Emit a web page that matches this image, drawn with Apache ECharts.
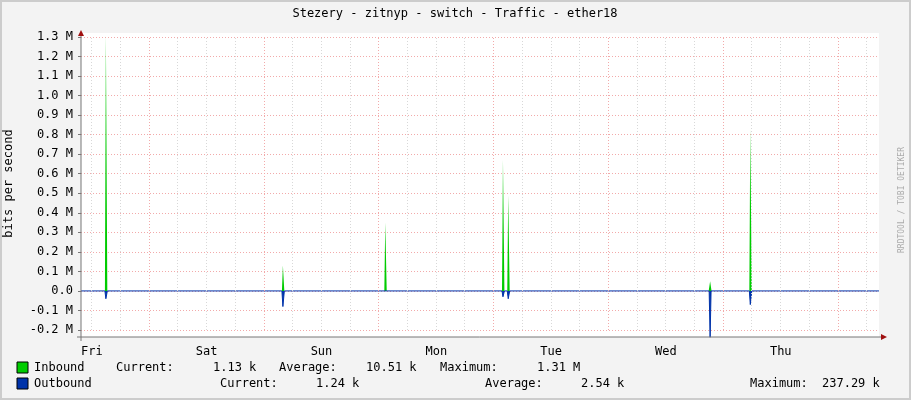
<!DOCTYPE html>
<html>
<head>
<meta charset="utf-8">
<script src="https://cdn.jsdelivr.net/npm/echarts@6/dist/echarts.min.js"></script>
<style>html,body{margin:0;padding:0;background:#f3f3f3}#main{width:911px;height:400px}</style>
</head>
<body>
<div id="main"></div>
<script>
// hours since start of Fri, values in Mbit/s
var dayLabels = ['Fri', 'Sat', 'Sun', 'Mon', 'Tue', 'Wed', 'Thu'];
var inbound = [
  [0, 0], [5.0, 0], [5.2, 1.31], [5.5, 0],
  [42.0, 0], [42.2, 0.13], [42.5, 0],
  [63.4, 0], [63.6, 0.35], [63.9, 0],
  [88.0, 0], [88.2, 0.67], [88.5, 0],
  [89.1, 0], [89.3, 0.49], [89.6, 0],
  [131.2, 0], [131.5, 0.05], [131.8, 0],
  [139.7, 0], [139.9, 0.83], [140.2, 0],
  [166.8, 0]
];
var outbound = [
  [0, 0], [5.0, 0], [5.2, -0.04], [5.5, 0],
  [42.0, 0], [42.2, -0.08], [42.5, 0],
  [88.0, 0], [88.2, -0.03], [88.5, 0],
  [89.1, 0], [89.3, -0.04], [89.6, 0],
  [131.3, 0], [131.5, -0.237], [131.7, 0],
  [139.7, 0], [139.9, -0.07], [140.2, 0],
  [166.8, 0]
];
var minorLines = [2.2, 8.2, 20.2, 26.2, 32.2, 44.2, 50.2, 56.2, 68.2, 74.2, 80.2, 92.2, 98.2, 104.2, 116.2, 122.2, 128.2, 140.2, 146.2, 152.2, 164.2];
var majorLines = [14.2, 38.2, 62.2, 86.2, 110.2, 134.2, 158.2];
var legendRows = [
  {y: 368, items: [[34, 'Inbound'], [116, 'Current:'], [213, '1.13 k'], [279, 'Average:'], [366, '10.51 k'], [440, 'Maximum:'], [537, '1.31 M']]},
  {y: 384, items: [[34, 'Outbound'], [220, 'Current:'], [316, '1.24 k'], [485, 'Average:'], [581, '2.54 k'], [750, 'Maximum:'], [822, '237.29 k']]}
];

var mono = 'DejaVu Sans Mono';
var chart = echarts.init(document.getElementById('main'));
var graphics = [
  {type: 'rect', z: -10, shape: {x: 1, y: 1, width: 909, height: 398}, style: {fill: '#f3f3f3', stroke: '#cccccc', lineWidth: 2}},
  {type: 'rect', z: -5, shape: {x: 81, y: 33, width: 798, height: 304}, style: {fill: '#ffffff'}},
  {type: 'line', z: 50, shape: {x1: 81, y1: 33, x2: 81, y2: 341}, style: {stroke: '#777', lineWidth: 1}},
  {type: 'line', z: 50, shape: {x1: 77, y1: 337, x2: 882, y2: 337}, style: {stroke: '#777', lineWidth: 1}},
  {type: 'polygon', z: 51, shape: {points: [[78, 36], [84, 36], [81, 30]]}, style: {fill: '#a01010'}},
  {type: 'polygon', z: 51, shape: {points: [[881, 334], [881, 340], [887, 337]]}, style: {fill: '#a01010'}},
  {type: 'text', style: {text: 'Stezery - zitnyp - switch - Traffic - ether18', x: 455, y: 14, align: 'center', verticalAlign: 'middle', font: '12px ' + mono, fill: '#000'}},
  {type: 'text', rotation: Math.PI / 2, x: 902, y: 200, style: {text: 'RRDTOOL / TOBI OETIKER', align: 'center', verticalAlign: 'middle', font: '8px ' + mono, fill: '#aaa'}},
  {type: 'rect', shape: {x: 17, y: 362, width: 11, height: 11}, style: {fill: '#00cc00', stroke: '#000'}},
  {type: 'rect', shape: {x: 17, y: 378, width: 11, height: 11}, style: {fill: '#0033aa', stroke: '#000'}}
];
legendRows.forEach(function (r) {
  r.items.forEach(function (it) {
    graphics.push({type: 'text', style: {text: it[1], x: it[0], y: r.y, verticalAlign: 'middle', font: '12px ' + mono, fill: '#000'}});
  });
});
function vlines(arr, color) {
  return arr.map(function (h) { return {xAxis: h, lineStyle: {color: color, type: [1, 2], width: 1}}; });
}
chart.setOption({
  animation: false,
  backgroundColor: 'transparent',
  graphic: graphics,
  grid: {left: 81, right: 32, top: 37, bottom: 70, containLabel: false, outerBoundsMode: 'none'},
  xAxis: {
    type: 'value', min: 0, max: 166.8, interval: 24,
    axisLine: {show: false}, axisTick: {show: false}, splitLine: {show: false},
    axisLabel: {align: 'left', margin: 16, fontFamily: mono, fontSize: 12, color: '#000',
      formatter: function (v) { return dayLabels[v / 24] || ''; }}
  },
  yAxis: {
    type: 'value', min: -0.2, max: 1.3, interval: 0.1,
    name: 'bits per second', nameLocation: 'middle', nameGap: 66, nameRotate: 90,
    nameTextStyle: {fontFamily: mono, fontSize: 12, color: '#000'},
    axisLine: {show: false}, axisTick: {show: true, length: 3, lineStyle: {color: '#777'}},
    splitLine: {lineStyle: {color: '#f2aaaa', type: [1, 2]}},
    axisLabel: {fontFamily: mono, fontSize: 12, color: '#000', margin: 8,
      formatter: function (v) { v = Math.round(v * 10) / 10; return v === 0 ? '0.0' : v.toFixed(1) + ' M'; }}
  },
  series: [
    {type: 'line', data: [], silent: true,
      markLine: {symbol: 'none', silent: true, label: {show: false},
        data: vlines(minorLines, '#d8d8d8').concat(vlines(majorLines, '#f2aaaa'))}},
    {name: 'Inbound', type: 'line', data: inbound, symbol: 'none', clip: false,
      lineStyle: {width: 0}, areaStyle: {color: '#00cc00', opacity: 1}, z: 3},
    {name: 'Outbound', type: 'line', data: outbound, symbol: 'none', clip: false,
      lineStyle: {color: '#0033aa', width: 1}, areaStyle: {color: '#0033aa', opacity: 1}, z: 4}
  ]
});
</script>
</body>
</html>
